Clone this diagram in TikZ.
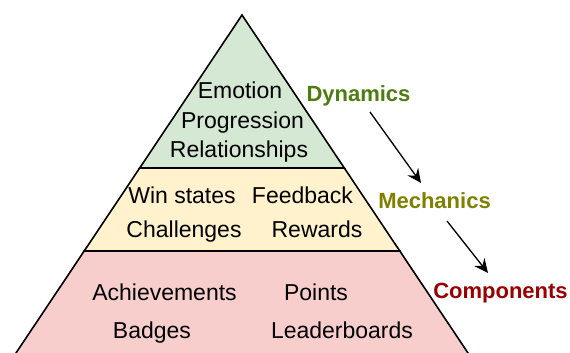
\documentclass[tikz,border=0pt]{standalone}
\usepackage{fontspec}
\setmainfont{Liberation Sans}
\usetikzlibrary{arrows.meta}
\definecolor{lvgreen}{HTML}{D5E8D4}
\definecolor{lvyellow}{HTML}{FFF2CC}
\definecolor{lvpink}{HTML}{F8CECC}
\definecolor{dyncol}{RGB}{77,124,15}
\definecolor{meccol}{RGB}{128,128,0}
\definecolor{comcol}{HTML}{990000}
\tikzset{
  band/.style={draw=black, line width=1.6pt, line join=miter},
  txt/.style={anchor=base, inner sep=0pt, font=\fontsize{23}{27}\selectfont},
  lbl/.style={anchor=base, inner sep=0pt, font=\fontsize{22}{26}\selectfont\bfseries},
  flow/.style={draw=black, line width=1.3pt, -{Stealth[length=14pt,width=13pt,inset=5pt]}}
}
\begin{document}
\begin{tikzpicture}[x=1pt,y=-1pt]
\useasboundingbox (0,0) rectangle (570,353);
\clip (0,0) rectangle (570,353);
% bands
\path[band, fill=lvpink] (84.2,251) -- (399.8,251) -- (472.7,360) -- (11.3,360) -- cycle;
\path[band, fill=lvyellow] (139.7,168) -- (344.3,168) -- (399.8,251) -- (84.2,251) -- cycle;
\path[band, fill=lvgreen] (242,15) -- (344.3,168) -- (139.7,168) -- cycle;
% top level texts
\node[txt] (emo) at (240,99) {Emotion};
\node[txt] (pro) at (242.5,128) {Progression};
\node[txt] (rel) at (239,157) {Relationships};
% middle
\node[txt] (win) at (182,203) {Win states};
\node[txt] (fee) at (302.5,203) {Feedback};
\node[txt] (cha) at (184,237) {Challenges};
\node[txt] (rew) at (317,237) {Rewards};
% bottom
\node[txt] (ach) at (164.5,300) {Achievements};
\node[txt] (poi) at (316,300) {Points};
\node[txt] (bad) at (152,338) {Badges};
\node[txt] (lea) at (342,338) {Leaderboards};
% labels
\node[lbl, text=dyncol] (dyn) at (358.5,101) {Dynamics};
\node[lbl, text=meccol] (mec) at (434.5,208) {Mechanics};
\node[lbl, text=comcol] (com) at (500.5,298) {Components};
% arrows
\coordinate (a1s) at (370,112);
\coordinate (a1e) at (421,183);
\coordinate (a2s) at (447,221);
\coordinate (a2e) at (488,273);
\draw[flow] (a1s) -- (a1e);
\draw[flow] (a2s) -- (a2e);
\end{tikzpicture}
\end{document}
